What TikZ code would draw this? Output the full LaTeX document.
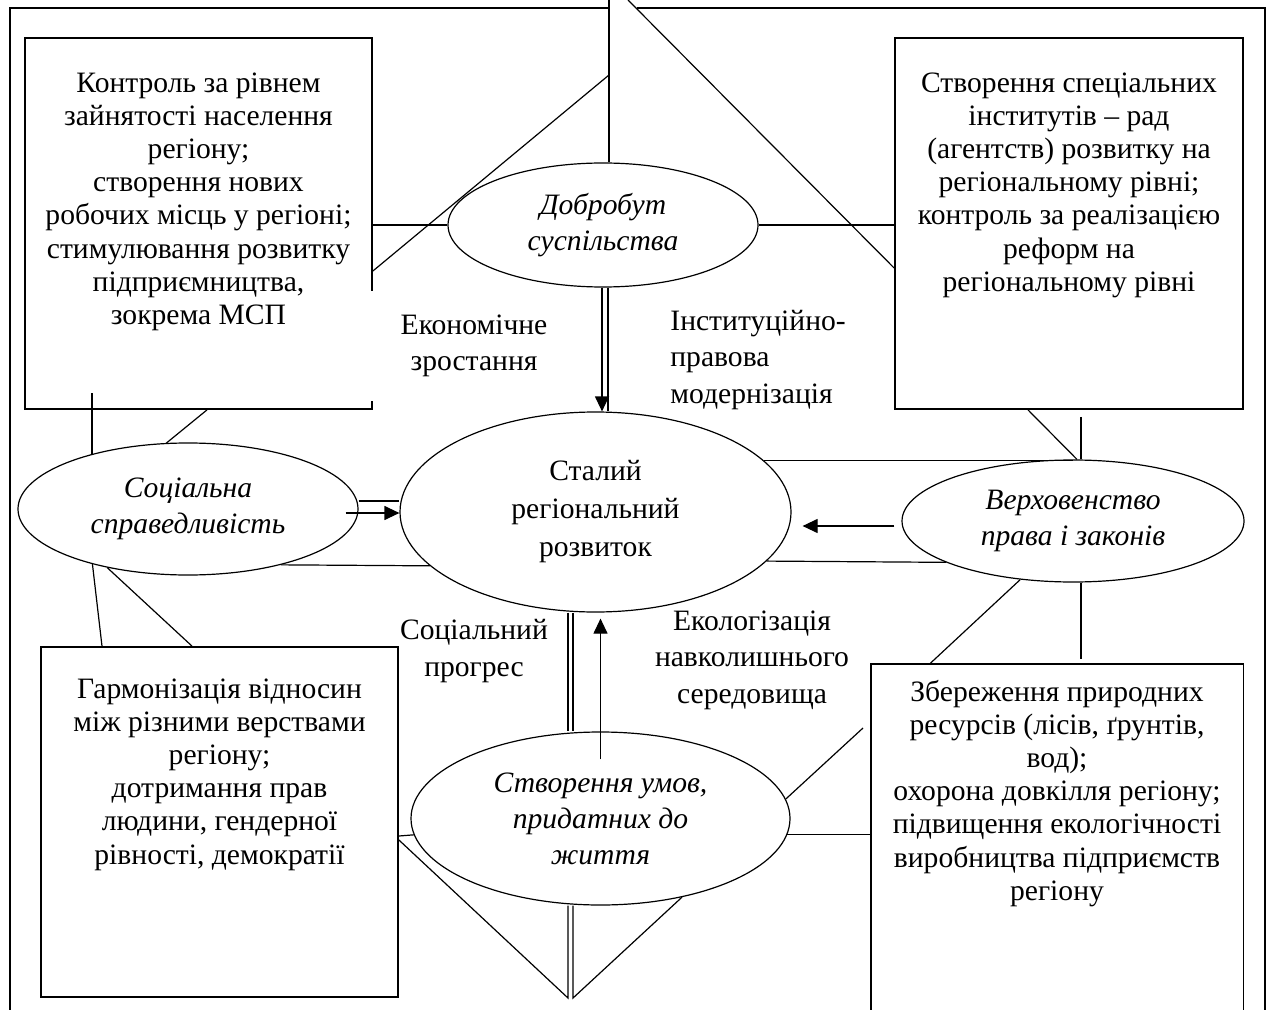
\documentclass[tikz,border=0pt]{standalone}
\usepackage{fontspec}
\setmainfont{Liberation Serif}
\usetikzlibrary{shapes.geometric,arrows.meta,positioning}

\tikzset{
  outer/.style={line width=0.9pt},
  box/.style={draw, line width=0.9pt, rectangle, inner sep=0pt},
  oval/.style={draw, line width=0.6pt, ellipse, inner sep=0pt, align=center,
    font=\itshape\fontsize{14.8pt}{18pt}\selectfont},
  boxtext/.style={align=center, inner sep=0pt, font=\fontsize{14.8pt}{16.6pt}\selectfont},
  lbl/.style={align=center, inner sep=0pt, font=\fontsize{14.8pt}{18.3pt}\selectfont},
  conn/.style={line width=0.6pt},
  arr/.style={line width=0.6pt, -{Triangle[width=7pt,length=7.5pt]}},
}

\begin{document}
\begin{tikzpicture}[x=0.5pt, y=-0.5pt]

          \useasboundingbox (0,0) rectangle (1267,1010);

          \draw[outer] (10,1010) -- (10,8) -- (609,8);
          \draw[outer] (637,8) -- (1265,8) -- (1265,1010);

          \node[box, minimum width=173.5pt, minimum height=185.5pt] (tl) at (198.5,223.5) {};
          \node[box, minimum width=174pt, minimum height=185.5pt] (tr) at (1069,223.5) {};
          \node[box, minimum width=178.5pt, minimum height=175pt] (bl) at (219.5,822) {};
          \node[inner sep=0pt, minimum width=186pt, minimum height=174pt] (br) at (1057,838) {};
          \draw[outer] (br.south west) |- (br.north east) -- (br.south east);

          \node[boxtext, below=17.5pt of tl.north] (tltext) {Контроль за рівнем\\зайнятості населення\\регіону;\\створення нових\\робочих місць у регіоні;\\стимулювання розвитку\\підприємництва,\\зокрема МСП};
          \node[boxtext, below=17.5pt of tr.north] (trtext) {Створення спеціальних\\інститутів -- рад\\(агентств) розвитку на\\регіональному рівні;\\контроль за реалізацією\\реформ на\\регіональному рівні};
          \node[boxtext, below=16pt of bl.north] (bltext) {Гармонізація відносин\\між різними верствами\\регіону;\\дотримання прав\\людини, гендерної\\рівності, демократії};
          \node[boxtext, below=8pt of br.north] (brtext) {Збереження природних\\ресурсів (лісів, ґрунтів,\\вод);\\охорона довкілля регіону;\\підвищення екологічності\\виробництва підприємств\\регіону};

          \node[oval, minimum width=155pt, minimum height=62pt] (dob) at (603,225) {Добробут\\суспільства};
          \node[oval, minimum width=195.5pt, minimum height=100pt, font=\fontsize{14.8pt}{19pt}\selectfont] (stal) at (595.5,512) {Сталий\\регіональний\\розвиток};
          \node[oval, minimum width=170pt, minimum height=66pt] (soc) at (188,509) {Соціальна\\справедливість};
          \node[oval, minimum width=171pt, minimum height=61pt] (verh) at (1073,521) {Верховенство\\права і законів};
          \node[oval, minimum width=189.5pt, minimum height=86.5pt] (umov) at (600.5,818.5) {Створення умов,\\придатних до\\життя};

          \coordinate (topV) at (609,0);
          \coordinate (topD) at (628,0);
          \coordinate (midV) at (609,75);
          \coordinate (tlIn) at (92,393);
          \coordinate (vL) at (568,998);
          \coordinate (vR) at (573,998);
          \coordinate (ecoEnd) at (863,728);
          \coordinate (dobL) at ([xshift=-0.5pt]dob.south);
          \coordinate (dobR) at ([xshift=2.5pt]dob.south);
          \coordinate (socHi) at ([yshift=4pt]soc.east);
          \coordinate (socMid) at ([xshift=-6.5pt,yshift=-2pt]soc.east);
          \coordinate (trFoot) at ([xshift=6pt,yshift=-3.5pt]tr.south);
          \coordinate (brHead) at ([xshift=12pt,yshift=2.5pt]br.north);
          \coordinate (stalL) at ([xshift=-13.75pt]stal.south);
          \coordinate (stalR) at ([xshift=-11.25pt]stal.south);
          \coordinate (upFrom) at ([yshift=-14pt]umov.north);
          \coordinate (upTo) at ([yshift=-3pt]stal.south);

          \draw[conn] (topV) -- (topV |- dob.north);
          \draw[conn] (topD) -- ([yshift=-22.25pt]tr.west);
          \draw[conn] (midV) -- ([yshift=-23.75pt]tl.east);
          \draw[conn] (tl.east |- dob.west) -- (dob.west);
          \draw[conn] (dob.east) -- (dob.east -| tr.west);
          \draw[arr] (dobL) -- (dobL |- stal.north);
          \draw[conn] (dobR) -- (dobR |- stal.north);

          \draw[conn] (tlIn) -- (tlIn |- soc.150);
          \draw[conn] ([xshift=4.25pt]tl.south) -- (soc.108);
          \draw[conn] (soc.210) -- ([xshift=-58.75pt]bl.north);
          \draw[conn] (soc.216) -- ([xshift=-13.75pt]bl.north);
          \draw[conn] (socHi) -- (socHi -| stal.west);
          \draw[arr] (socMid) -- (socMid -| stal.west);
          \draw[conn] (soc.-31) -- (stal.198);

          \draw[conn] (stal.17) -- (stal.17 -| verh.north);
          \draw[conn] (stal.-16) -- (verh.198);
          \draw[arr] ([xshift=-3.5pt,yshift=-2.5pt]verh.west) -- ([xshift=5.5pt,yshift=-7pt]stal.east);
          \draw[conn] (trFoot) -- (trFoot |- verh.north);
          \draw[conn] ([xshift=-20.5pt]tr.south) -- ([xshift=2pt]verh.north);
          \draw[conn] (brHead |- verh.south) -- (brHead);
          \draw[conn] (verh.228) -- ([xshift=-63.5pt]br.north);

          \draw[conn] (stalL) -- (stalL |- umov.north);
          \draw[conn] (stalR) -- (stalR |- umov.north);
          \draw[arr] (upFrom) -- (upFrom |- upTo);
          \draw[conn] ([yshift=-9pt]bl.east) -- (vL) -- (vL |- umov.south);
          \draw[conn] (umov.-44) -- (vR) -- (vR |- umov.south);
          \draw[conn] ([yshift=-7pt]bl.east) -- (umov.185);
          \draw[conn] (umov.-5) -- (umov.-5 -| br.west);
          \draw[conn] (umov.6) -- (ecoEnd);

          \node[lbl, fill=white, minimum width=109.5pt, minimum height=54.5pt] (econ) at (474,346) {Економічне\\зростання};
          \node[lbl, align=left, anchor=west] (inst) at (670,360) {Інституційно-\\правова\\модернізація};
          \node[lbl] (socpr) at (474,651) {Соціальний\\прогрес};
          \node[lbl] (eco) at (752,660) {Екологізація\\навколишнього\\середовища};

         \end{tikzpicture}
\end{document}
